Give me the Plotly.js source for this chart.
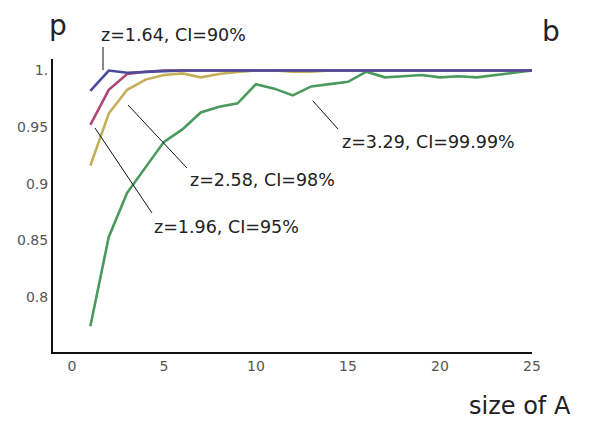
<!DOCTYPE html>
<html><head><meta charset="utf-8">
<script src="https://cdn.plot.ly/plotly-3.0.1.min.js"></script>
<style>html,body{margin:0;padding:0;background:#fff}#chart{width:598px;height:421px}</style>
</head><body><div id="chart"></div>
<script>
const sizeA = [1,2,3,4,5,6,7,8,9,10,11,12,13,14,15,16,17,18,19,20,21,22,23,24,25];
const p164 = [0.982,1.0,0.998,0.999,0.9995,1,1,1,1,1,1,1,1,1,1,1,1,1,1,1,1,1,1,1,1];
const p196 = [0.952,0.983,0.997,0.999,1,1,1,1,1,1,1,1,1,1,1,1,1,1,1,1,1,1,1,1,1];
const p258 = [0.916,0.962,0.983,0.992,0.996,0.9975,0.994,0.997,0.9987,1,1,0.999,0.999,1,1,1,1,1,1,1,1,1,1,1,1];
const p329 = [0.774,0.853,0.892,0.915,0.937,0.948,0.963,0.968,0.971,0.988,0.984,0.978,0.986,0.988,0.990,0.999,0.994,0.995,0.996,0.994,0.995,0.994,0.996,0.998,1.0];
const seriesNames = ["z=3.29, CI=99.99%","z=2.58, CI=98%","z=1.96, CI=95%","z=1.64, CI=90%"];
const yTickVals = [0.8,0.85,0.9,0.95,1];
const yTickText = ["0.8","0.85","0.9","0.95","1."];
const xTickVals = [0,5,10,15,20,25];

const colors = ["#4a9a5e","#c4ae58","#b04878","#4b4b9c"];
const vals = [p329,p258,p196,p164];
const traces = vals.map((v,i)=>({x:sizeA,y:v,type:'scatter',mode:'lines',name:seriesNames[i],
  line:{color:colors[i],width:2.6},hoverinfo:'skip'}));

const F = "DejaVu Sans, sans-serif";
function ann(text,x,y,size,extra){return Object.assign({text:text,x:x,y:y,xref:'paper',yref:'paper',showarrow:false,
  xanchor:'center',yanchor:'middle',font:{family:F,size:size,color:'#222'}},extra||{});}
function seg(x0,y0,x1,y1){return {type:'line',xref:'paper',yref:'paper',x0:x0,y0:y0,x1:x1,y1:y1,line:{color:'#111',width:1}};}

const layout = {
  width:598,height:421,paper_bgcolor:'#fff',plot_bgcolor:'#fff',showlegend:false,
  margin:{l:53,r:66,t:59,b:69},
  xaxis:{range:[-1.03,25],tickvals:xTickVals,showgrid:false,zeroline:false,showline:true,linecolor:'#111',linewidth:2,
    ticks:'',tickfont:{family:F,size:14,color:'#555'}},
  yaxis:{range:[0.7513,1.0102],tickvals:yTickVals,ticktext:yTickText,showgrid:false,zeroline:false,showline:true,
    linecolor:'#111',linewidth:2,ticks:'',tickfont:{family:F,size:14,color:'#555'}},
  annotations:[
    ann(seriesNames[3],0.2516,1.0836,17.5),
    ann(seriesNames[1],0.4374,0.587,17.5),
    ann(seriesNames[2],0.3622,0.4266,17.5),
    ann(seriesNames[0],0.784,0.7184,17.5),
    ann("p",0.0104,1.115,28,{yanchor:'middle'}),
    ann("b",1.0396,1.093,28),
    ann("size of A",0.975,-0.185,24)
  ],
  shapes:[
    seg(0.1044,1.041,0.1044,0.962),
    seg(0.1566,0.843,0.2797,0.628),
    seg(0.0877,0.7645,0.2067,0.4744),
    seg(0.5422,0.8577,0.595,0.761)
  ]
};
Plotly.newPlot('chart',traces,layout,{displayModeBar:false,staticPlot:true});
</script></body></html>
